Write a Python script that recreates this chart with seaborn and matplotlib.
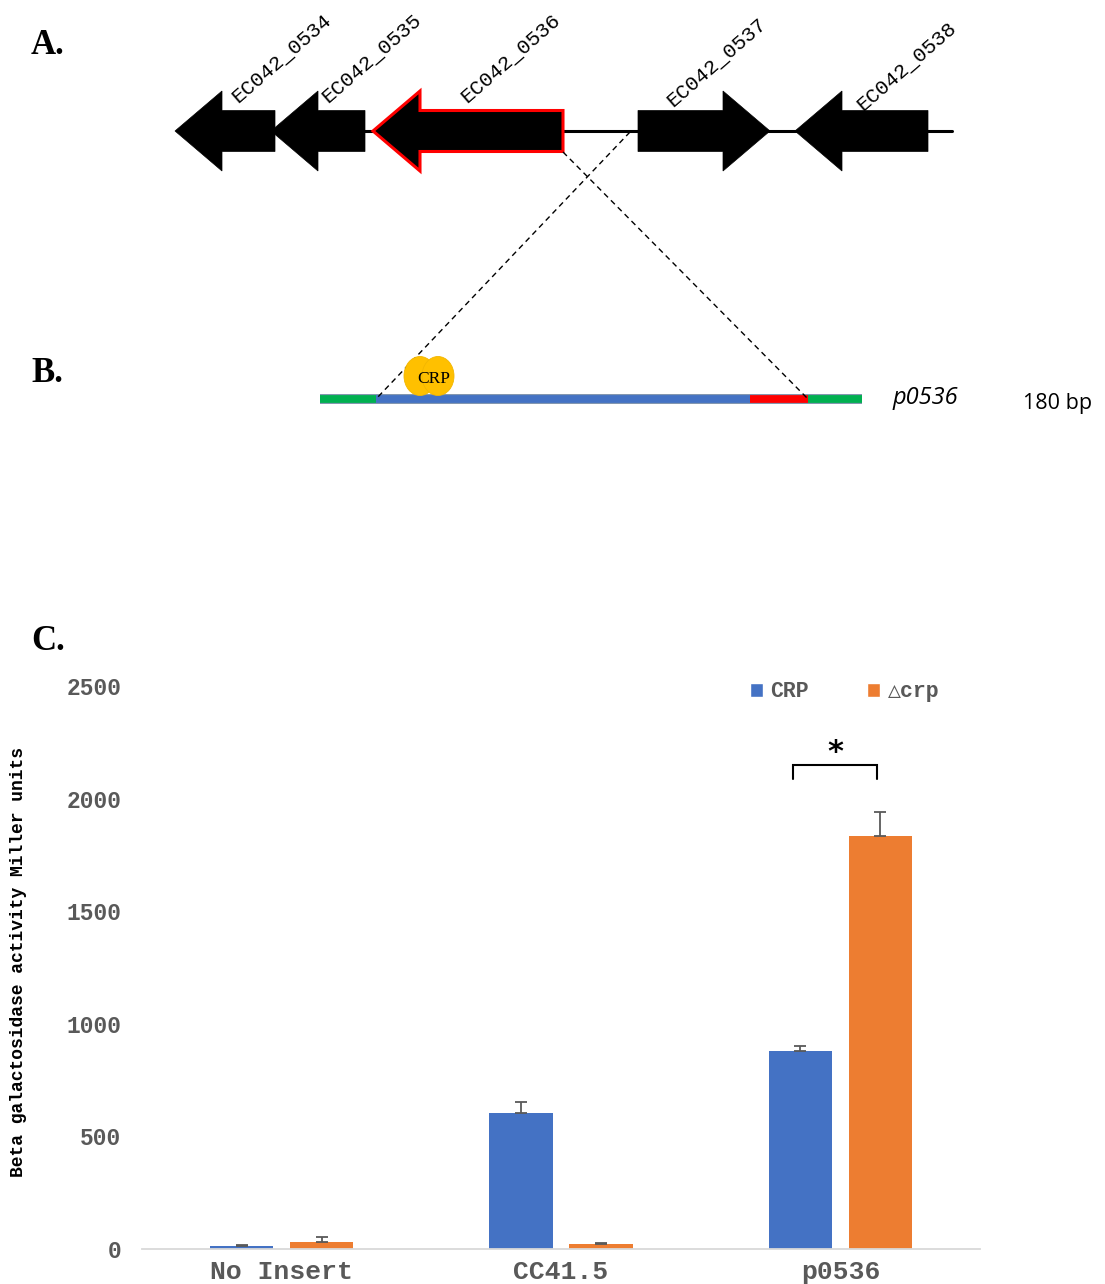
import numpy as np
import pandas as pd
import matplotlib
matplotlib.use("Agg")
import matplotlib.pyplot as plt
from matplotlib.patches import Polygon, Ellipse, Patch
from matplotlib.font_manager import FontProperties
import seaborn as sns

# ---- beta-galactosidase reporter assay (panel C) ----
constructs = ["No Insert", "CC41.5", "p0536"]
strains = ["CRP", "\u25b3crp"]
crp_activity = [15, 604, 879]
crp_error = [3, 49, 22]
dcrp_activity = [31, 22, 1834]
dcrp_error = [22, 3, 106]
y_ticks = [0, 500, 1000, 1500, 2000, 2500]

# ---- gene neighbourhood (panel A), drawing units ----
gene_names = ["EC042_0534", "EC042_0535", "EC042_0536", "EC042_0537", "EC042_0538"]
gene_start = [175, 271, 373, 638, 795]
gene_end = [275, 365, 563, 770, 928]
gene_strand = [-1, -1, -1, 1, -1]
label_x = [238, 328, 467, 673, 863]
label_y = [103, 103, 103, 107, 111]
highlight_gene = "EC042_0536"
locus_end = 952

# ---- cloned promoter fragment (panel B) ----
fragment_bounds = [320, 376, 750, 808, 862]
fragment_colors = ["#00B050", "#4472C4", "#FF0000", "#00B050"]
fragment_name = "p0536"
fragment_length = "180 bp"

BLUE = "#4472C4"
ORANGE = "#ED7D31"
GREY = "#595959"
MONO = ["Liberation Mono", "DejaVu Sans Mono", "DejaVu Sans"]
SERIF = ["Liberation Serif", "DejaVu Serif"]

sns.set_theme(style="white")
plt.rcParams["font.family"] = ["Liberation Mono", "DejaVu Sans"]

fig = plt.figure(figsize=(11.05, 12.84), dpi=100)

# canvas for the schematic panels (pixel-like units, y downward)
dg = fig.add_axes([0, 0, 1, 1])
dg.set_xlim(0, 1105)
dg.set_ylim(1284, 0)
dg.axis("off")

for letter, (lx, ly) in zip(["A.", "B.", "C."], [(31, 46), (31, 373), (31, 642)]):
    dg.text(lx, ly, letter, fontsize=25, fontweight="bold", family=SERIF,
            va="center", ha="left", color="black")

# chromosome line
AXIS_Y = 131
dg.plot([gene_start[1], locus_end], [AXIS_Y, AXIS_Y], color="black", lw=2.2, zorder=1)


def gene_shape(start, end, strand, y=AXIS_Y, head=47, body=20.5, wing=40):
    if strand < 0:
        tip, base, tail = start, start + head, end
    else:
        tip, base, tail = end, end - head, start
    return [(tip, y), (base, y - wing), (base, y - body), (tail, y - body),
            (tail, y + body), (base, y + body), (base, y + wing)]


for name, s, e, st, tx, ty in zip(gene_names, gene_start, gene_end, gene_strand,
                                  label_x, label_y):
    hl = name == highlight_gene
    poly = Polygon(gene_shape(s, e, st), closed=True, facecolor="black",
                   edgecolor="#FF0000" if hl else "black",
                   lw=2.2 if hl else 0.5, zorder=3 if hl else 2, joinstyle="miter")
    dg.add_patch(poly)
    dg.text(tx, ty, name, fontsize=15, family=MONO, rotation=41,
            rotation_mode="anchor", ha="left", va="baseline", color="black")

# zoom lines from locus to promoter fragment
FRAG_Y = 399
dg.plot([gene_end[2], fragment_bounds[3]], [152, FRAG_Y], color="black", lw=1,
        ls=(0, (4, 3)), zorder=4)
dg.plot([630, fragment_bounds[1]], [AXIS_Y + 1, FRAG_Y], color="black", lw=1,
        ls=(0, (4, 3)), zorder=4)

# promoter fragment bar
dg.plot([fragment_bounds[0], fragment_bounds[-1]], [FRAG_Y, FRAG_Y], color="#8497B0",
        lw=7.2, solid_capstyle="butt", zorder=2)
for x0, x1, c in zip(fragment_bounds[:-1], fragment_bounds[1:], fragment_colors):
    dg.plot([x0, x1], [FRAG_Y, FRAG_Y], color=c, lw=5.6, solid_capstyle="butt", zorder=3)

# CRP dimer bound upstream
for cx in (420, 438):
    dg.add_patch(Ellipse((cx, 376), 32, 39, facecolor="#FFC000",
                         edgecolor="#F2B600", lw=0.6, zorder=5))
dg.text(434, 379, "CRP", fontsize=12.5, family=SERIF, ha="center", va="center",
        color="black", zorder=6)

dg.text(893, 398, fragment_name, fontsize=17, style="italic",
        family=["Open Sans", "DejaVu Sans"], ha="left", va="center", color="black")
dg.text(1023, 404, fragment_length, fontsize=15.5,
        family=["Open Sans", "DejaVu Sans"], ha="left", va="center", color="black")

# ---- bar chart ----
ax = fig.add_axes([142 / 1105, 1 - 1249 / 1284, (980 - 142) / 1105, (1249 - 686) / 1284])
ax.set_facecolor("none")

df = pd.DataFrame({
    "construct": constructs * 2,
    "strain": [strains[0]] * len(constructs) + [strains[1]] * len(constructs),
    "activity": crp_activity + dcrp_activity,
})
sns.barplot(data=df, x="construct", y="activity", hue="strain", order=constructs,
            hue_order=strains, palette=[BLUE, ORANGE], width=0.572, gap=0.21,
            saturation=1, errorbar=None, legend=False, linewidth=0, ax=ax)

for cont, errs in zip(ax.containers, [crp_error, dcrp_error]):
    for bar, err in zip(cont, errs):
        xc = bar.get_x() + bar.get_width() / 2
        ax.errorbar(xc, bar.get_height(), yerr=[[0], [err]], fmt="none",
                    ecolor=GREY, elinewidth=1.3, capsize=4, capthick=1.3, zorder=5)

ax.set_xlim(-0.5, len(constructs) - 0.5)
ax.set_ylim(0, 2500)
ax.set_yticks(y_ticks)
ax.set_yticklabels([str(t) for t in y_ticks])
for side in ("top", "right", "left"):
    ax.spines[side].set_visible(False)
ax.spines["bottom"].set_color("#D9D9D9")
ax.spines["bottom"].set_linewidth(1.3)
ax.tick_params(axis="y", length=0, pad=15, labelsize=16.5, labelcolor=GREY)
ax.tick_params(axis="x", length=0, pad=8, labelsize=19, labelcolor=GREY)
for lab in ax.get_yticklabels() + ax.get_xticklabels():
    lab.set_fontweight("bold")
    lab.set_family(MONO)
ax.set_xlabel("")
ax.set_ylabel("Beta galactosidase activity Miller units", fontsize=13,
              fontweight="bold", family=MONO, color="black")
ax.yaxis.set_label_coords(-0.137, 0.51)

# significance bracket between strains for p0536
xb = [b.get_x() + b.get_width() / 2 for b in (ax.containers[0][2], ax.containers[1][2])]
xb[0] -= 0.025
xb[1] -= 0.01
ax.plot([xb[0], xb[0], xb[1], xb[1]], [2087, 2149, 2149, 2087], color="black",
        lw=1.5, solid_joinstyle="miter", zorder=6)
ax.text(np.mean(xb), 2205, "*", fontsize=22, fontweight="bold",
        family=["DejaVu Sans"], ha="center", va="center", color="black")

handles = [Patch(facecolor=BLUE), Patch(facecolor=ORANGE)]
ax.legend(handles, strains, ncol=2, loc="center left",
          bbox_to_anchor=((750 - 142) / 838, (1249 - 692) / 563), frameon=False,
          handlelength=0.6, handleheight=0.6, handletextpad=0.35,
          columnspacing=2.7, borderaxespad=0, borderpad=0, labelcolor=GREY,
          prop=FontProperties(family=MONO, weight="bold", size=15.5))

fig.savefig("out.png", dpi=100)
